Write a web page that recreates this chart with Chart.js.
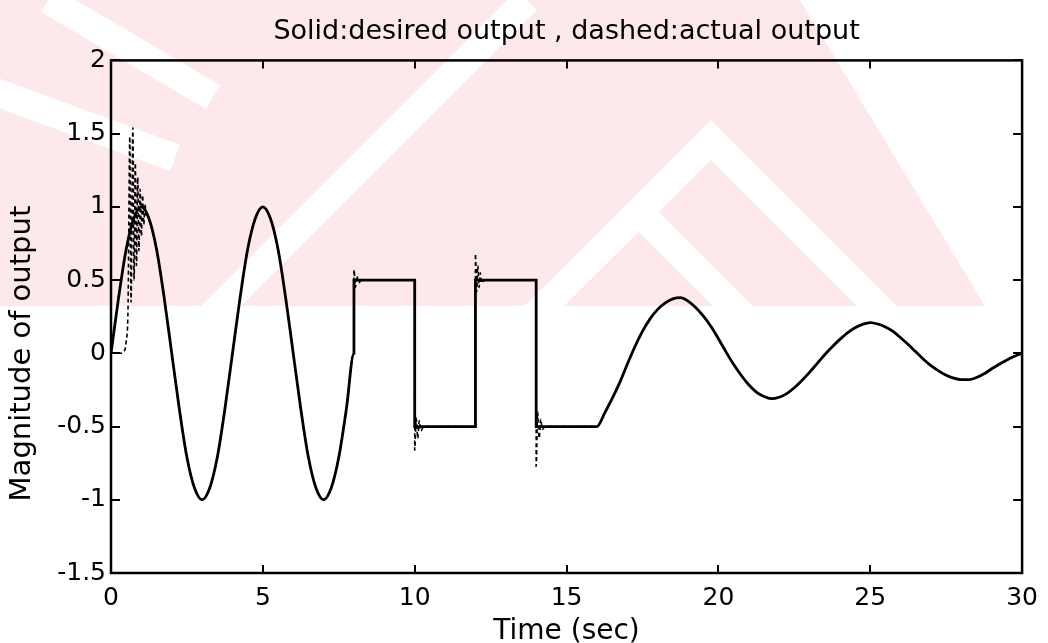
<!DOCTYPE html>
<html>
<head>
<meta charset="utf-8">
<script src="https://cdn.jsdelivr.net/npm/chart.js@4.4.1/dist/chart.umd.min.js"></script>
<style>
  html, body { margin: 0; padding: 0; background: #fff; }
  #wrap { width: 1048px; height: 643px; position: relative; }
</style>
</head>
<body>
<div id="wrap"><canvas id="chart"></canvas></div>
<script>
// desired output (solid): sine part, square steps, damped tail
const tDesired = [
  0, 0.25, 0.5, 0.75, 1, 1.25, 1.5, 1.75, 2, 2.25, 2.5, 2.75, 3, 3.25, 3.5, 3.75,
  4, 4.25, 4.5, 4.75, 5, 5.25, 5.5, 5.75, 6, 6.25, 6.5, 6.75, 7, 7.25, 7.5, 7.75, 8,
  8, 10, 10, 12, 12, 14, 14, 16,
  16.25, 16.5, 16.75, 17, 17.25, 17.5, 17.75, 18, 18.25, 18.5, 18.75, 19, 19.25, 19.5, 19.75,
  20, 20.25, 20.5, 20.75, 21, 21.25, 21.5, 21.75, 22, 22.25, 22.5, 22.75, 23, 23.25, 23.5, 23.75,
  24, 24.25, 24.5, 24.75, 25, 25.25, 25.5, 25.75, 26, 26.25, 26.5, 26.75, 27, 27.25, 27.5, 27.75,
  28, 28.25, 28.5, 28.75, 29, 29.25, 29.5, 29.75, 30
];
const yDesired = [
  0, 0.38, 0.71, 0.92, 1, 0.92, 0.71, 0.38, 0, -0.38, -0.71, -0.92, -1, -0.92, -0.71, -0.38,
  0, 0.38, 0.71, 0.92, 1, 0.92, 0.71, 0.38, 0, -0.38, -0.71, -0.92, -1, -0.92, -0.71, -0.38, 0,
  0.5, 0.5, -0.5, -0.5, 0.5, 0.5, -0.5, -0.5,
  -0.41, -0.31, -0.2, -0.075, 0.045, 0.15, 0.235, 0.3, 0.345, 0.372, 0.38, 0.356, 0.312, 0.255, 0.185,
  0.1, 0.01, -0.075, -0.15, -0.215, -0.265, -0.295, -0.31, -0.3, -0.275, -0.235, -0.185, -0.13, -0.07, -0.01, 0.045,
  0.095, 0.14, 0.175, 0.198, 0.21, 0.2, 0.18, 0.15, 0.106, 0.06, 0.01, -0.04, -0.084, -0.12, -0.15, -0.17,
  -0.18, -0.18, -0.165, -0.14, -0.105, -0.075, -0.045, -0.02, 0
];

// actual output (dashed): start-up oscillation and overshoot at each step
const tActual = [
  0, 0.3, 0.45, 0.5, 0.56, 0.62, 0.66, 0.72, 0.76, 0.8, 0.84, 0.88, 0.92, 0.96, 1, 1.04, 1.08, 1.12, 1.16, 1.2,
  1.25, 1.5, 1.75, 2, 2.25, 2.5, 2.75, 3, 3.25, 3.5, 3.75,
  4, 4.25, 4.5, 4.75, 5, 5.25, 5.5, 5.75, 6, 6.25, 6.5, 6.75, 7, 7.25, 7.5, 7.75, 8,
  8, 8.05, 8.1, 8.15, 8.25, 10,
  10, 10.05, 10.1, 10.15, 10.2, 10.3, 12,
  12, 12.04, 12.08, 12.12, 12.16, 12.2, 12.3, 14,
  14, 14.05, 14.1, 14.15, 14.2, 14.3, 16,
  16.25, 16.5, 16.75, 17, 17.25, 17.5, 17.75, 18, 18.25, 18.5, 18.75, 19, 19.25, 19.5, 19.75,
  20, 20.25, 20.5, 20.75, 21, 21.25, 21.5, 21.75, 22, 22.25, 22.5, 22.75, 23, 23.25, 23.5, 23.75,
  24, 24.25, 24.5, 24.75, 25, 25.25, 25.5, 25.75, 26, 26.25, 26.5, 26.75, 27, 27.25, 27.5, 27.75,
  28, 28.25, 28.5, 28.75, 29, 29.25, 29.5, 29.75, 30
];
const yActual = [
  0, 0, 0.02, 0.08, 0.3, 1.48, 0.35, 1.54, 0.5, 1.3, 0.6, 1.2, 0.7, 1.12, 0.8, 1.08, 0.88, 1.02, 0.94, 0.95,
  0.92, 0.71, 0.38, 0, -0.38, -0.71, -0.92, -1, -0.92, -0.71, -0.38,
  0, 0.38, 0.71, 0.92, 1, 0.92, 0.71, 0.38, 0, -0.38, -0.71, -0.92, -1, -0.92, -0.71, -0.38, 0,
  0.57, 0.45, 0.53, 0.48, 0.5, 0.5,
  -0.66, -0.44, -0.58, -0.46, -0.53, -0.5, -0.5,
  0.68, 0.42, 0.6, 0.45, 0.55, 0.48, 0.5, 0.5,
  -0.77, -0.4, -0.58, -0.45, -0.52, -0.5, -0.5,
  -0.41, -0.31, -0.2, -0.075, 0.045, 0.15, 0.235, 0.3, 0.345, 0.372, 0.38, 0.356, 0.312, 0.255, 0.185,
  0.1, 0.01, -0.075, -0.15, -0.215, -0.265, -0.295, -0.31, -0.3, -0.275, -0.235, -0.185, -0.13, -0.07, -0.01, 0.045,
  0.095, 0.14, 0.175, 0.198, 0.21, 0.2, 0.18, 0.15, 0.106, 0.06, 0.01, -0.04, -0.084, -0.12, -0.15, -0.17,
  -0.18, -0.18, -0.165, -0.14, -0.105, -0.075, -0.045, -0.02, 0
];

const xTicks = [0, 5, 10, 15, 20, 25, 30];
const yTicks = [-1.5, -1, -0.5, 0, 0.5, 1, 1.5, 2];

const pts = (xs, ys) => xs.map((x, i) => ({ x: x, y: ys[i] }));
const fontFam = "'DejaVu Sans', 'Liberation Sans', sans-serif";

// faint pink watermark in the upper part of the page
const watermark = {
  id: "watermark",
  beforeDraw(chart) {
    const ctx = chart.ctx;
    ctx.save();
    ctx.beginPath();
    ctx.moveTo(0, 0);
    ctx.lineTo(800, 0);
    ctx.lineTo(985, 306);
    ctx.lineTo(0, 306);
    ctx.closePath();
    ctx.clip();
    ctx.fillStyle = "#fde8ec";
    ctx.fillRect(0, 0, 1048, 306);
    ctx.strokeStyle = "#ffffff";
    ctx.lineWidth = 28;
    ctx.lineCap = "butt";
    const strokes = [
      [[48, 0], [213, 97]],
      [[-10, 90], [175, 158]],
      [[200, 327], [527, 0]],
      [[530, 320], [711, 140], [891, 320]],
      [[640, 213], [745, 318]],
    ];
    strokes.forEach((s) => {
      ctx.beginPath();
      ctx.moveTo(s[0][0], s[0][1]);
      for (let i = 1; i < s.length; i++) ctx.lineTo(s[i][0], s[i][1]);
      ctx.stroke();
    });
    ctx.restore();
  },
};

// matlab style box with ticks pointing inwards on all four sides
const axesBox = {
  id: "axesBox",
  afterDatasetsDraw(chart) {
    const { ctx, chartArea: a, scales } = chart;
    ctx.save();
    ctx.strokeStyle = "#000";
    ctx.lineWidth = 2;
    xTicks.forEach((v) => {
      const px = Math.round(scales.x.getPixelForValue(v));
      ctx.beginPath();
      ctx.moveTo(px, a.bottom); ctx.lineTo(px, a.bottom - 8);
      ctx.moveTo(px, a.top); ctx.lineTo(px, a.top + 8);
      ctx.stroke();
    });
    yTicks.forEach((v) => {
      const py = Math.round(scales.y.getPixelForValue(v));
      ctx.beginPath();
      ctx.moveTo(a.left, py); ctx.lineTo(a.left + 9, py);
      ctx.moveTo(a.right, py); ctx.lineTo(a.right - 9, py);
      ctx.stroke();
    });
    ctx.lineWidth = 2.5;
    ctx.strokeRect(a.left, a.top, a.right - a.left, a.bottom - a.top);
    ctx.restore();
  },
};

new Chart(document.getElementById("chart").getContext("2d"), {
  type: "line",
  data: {
    datasets: [
      {
        label: "desired output",
        data: pts(tDesired, yDesired),
        borderColor: "#000",
        borderWidth: 2.8,
        pointRadius: 0,
        cubicInterpolationMode: "monotone",
      },
      {
        label: "actual output",
        data: pts(tActual, yActual),
        borderColor: "#000",
        borderWidth: 1.6,
        borderDash: [4, 3],
        pointRadius: 0,
        cubicInterpolationMode: "monotone",
      },
    ],
  },
  options: {
    responsive: true,
    maintainAspectRatio: false,
    animation: false,
    layout: { padding: { left: 0, right: 23, top: 0, bottom: 0 } },
    plugins: {
      legend: { display: false },
      tooltip: { enabled: false },
      title: {
        display: true,
        fullSize: false,
        text: "Solid:desired output , dashed:actual output",
        color: "#000",
        font: { family: fontFam, size: 27, weight: "normal", lineHeight: 1.2 },
        padding: { top: 16, bottom: 12 },
      },
    },
    scales: {
      x: {
        type: "linear",
        min: 0,
        max: 30,
        afterFit: (s) => { s.height = 70; },
        afterBuildTicks: (s) => { s.ticks = xTicks.map((v) => ({ value: v })); },
        grid: { display: false, drawTicks: false },
        border: { display: false },
        ticks: { color: "#000", padding: 10, maxRotation: 0, font: { family: fontFam, size: 25 } },
        title: {
          display: true,
          text: "Time (sec)",
          color: "#000",
          font: { family: fontFam, size: 28, lineHeight: 1 },
          padding: { top: 0, bottom: -3 },
        },
      },
      y: {
        type: "linear",
        min: -1.5,
        max: 2,
        afterFit: (s) => { s.width = 111; },
        afterBuildTicks: (s) => { s.ticks = yTicks.map((v) => ({ value: v })); },
        grid: { display: false, drawTicks: false },
        border: { display: false },
        ticks: { color: "#000", padding: 5, callback: (v) => String(v), font: { family: fontFam, size: 25 } },
        title: {
          display: true,
          text: "Magnitude of output        ",
          color: "#000",
          font: { family: fontFam, size: 29, lineHeight: 1 },
          padding: { top: 8, bottom: 0 },
        },
      },
    },
  },
  plugins: [watermark, axesBox],
});
</script>
</body>
</html>
